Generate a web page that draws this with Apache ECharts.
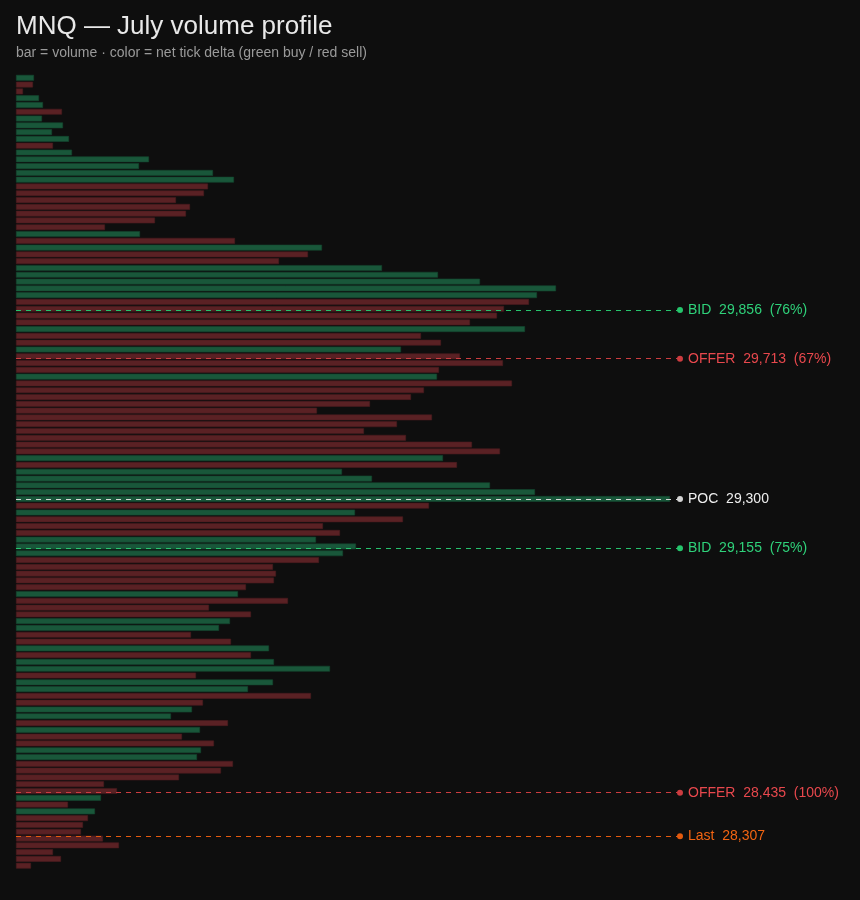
<!DOCTYPE html>
<html><head><meta charset="utf-8">
<script src="https://cdn.jsdelivr.net/npm/echarts@6/dist/echarts.min.js"></script>
<style>html,body{margin:0;padding:0;background:#0e0e0e}#c{width:860px;height:900px}</style>
</head><body><div id="c"></div>
<script>
// price bins (top to bottom)
const prices = [
30540,30520,30500,30480,30460,30440,30420,30400,30380,30360,
30340,30320,30300,30280,30260,30240,30220,30200,30180,30160,
30140,30120,30100,30080,30060,30040,30020,30000,29980,29960,
29940,29920,29900,29880,29860,29840,29820,29800,29780,29760,
29740,29720,29700,29680,29660,29640,29620,29600,29580,29560,
29540,29520,29500,29480,29460,29440,29420,29400,29380,29360,
29340,29320,29300,29280,29260,29240,29220,29200,29180,29160,
29140,29120,29100,29080,29060,29040,29020,29000,28980,28960,
28940,28920,28900,28880,28860,28840,28820,28800,28780,28760,
28740,28720,28700,28680,28660,28640,28620,28600,28580,28560,
28540,28520,28500,28480,28460,28440,28420,28400,28380,28360,
28340,28320,28300,28280,28260,28240,28220];
// volume per bin
const volumes = [
18,17,7,23,27,46,26,47,36,53,
37,56,133,123,197,218,192,188,160,174,
170,139,89,124,219,306,292,263,366,422,
464,540,521,513,488,481,454,509,405,425,
385,444,487,423,421,496,408,395,354,301,
416,381,348,390,456,484,427,441,326,356,
474,519,654,413,339,387,307,324,300,340,
327,303,257,260,258,230,222,272,193,235,
214,203,175,215,253,235,258,314,180,257,
232,295,187,176,155,212,184,166,198,185,
181,217,205,163,88,101,85,52,79,72,
67,65,87,103,37,45,15];
// net tick delta sign: 1 buy, -1 sell
const deltaSign = [
1,-1,-1,1,1,-1,1,1,1,1,
-1,1,1,1,1,1,-1,-1,-1,-1,
-1,-1,-1,1,-1,1,-1,-1,1,1,
1,1,1,-1,-1,-1,-1,1,-1,-1,
1,-1,-1,-1,1,-1,-1,-1,-1,-1,
-1,-1,-1,-1,-1,-1,1,-1,1,1,
1,1,1,-1,1,-1,-1,-1,1,1,
1,-1,-1,-1,-1,-1,1,-1,-1,-1,
1,1,-1,-1,1,-1,1,1,-1,1,
1,-1,-1,1,1,-1,1,-1,-1,1,
1,-1,-1,-1,-1,-1,1,-1,1,-1,
-1,-1,-1,-1,-1,-1,-1];
// reference levels
const levelNames = ['BID','OFFER','POC','BID','OFFER','Last'];
const levelPrices = [29856,29713,29300,29155,28435,28307];
const levelPct = ['76%','67%','','75%','100%',''];
const levelColors = ['#2fd27a','#e8484d','#eeeeee','#2fd27a','#e8484d','#f26412'];
const lineColors = ['#25c56c','#cc3c40','#d4d4d4','#25c56c','#cc3c40','#e35a0e'];

const GREEN = '#19573a', RED = '#5a2124';
const barData = volumes.map((v,i)=>({
  value: v,
  itemStyle: {color: deltaSign[i] > 0 ? GREEN : RED,
              borderColor: deltaSign[i] > 0 ? '#14472f' : '#4a1b1e', borderWidth: 0.6}
}));

const fmt = n => n.toLocaleString('en-US');
const markData = levelPrices.map((p,i)=>({
  yAxis: p,
  lineStyle: {color: lineColors[i], type: [5,5], width: 1.2},
  itemStyle: {color: levelColors[i]},
  label: {color: levelColors[i],
    formatter: levelNames[i] + '  ' + fmt(p) + (levelPct[i] ? '  (' + levelPct[i] + ')' : '')}
}));

const chart = echarts.init(document.getElementById('c'), null, {renderer:'canvas'});
chart.setOption({
  backgroundColor: '#0e0e0e',
  animation: false,
  title: {
    text: 'MNQ — July volume profile',
    subtext: 'bar = volume · color = net tick delta (green buy / red sell)',
    left: 11, top: 9, itemGap: 6,
    textStyle: {color:'#e8e8e8', fontSize: 26, fontWeight: 'normal', fontFamily: 'Liberation Sans, Arial, sans-serif'},
    subtextStyle: {color:'#9a9a9a', fontSize: 14, fontFamily: 'Liberation Sans, Arial, sans-serif'}
  },
  grid: {left: 16, right: 180, top: 74.4, bottom: 30.9},
  xAxis: {type:'value', min: 0, max: 664, show: false},
  yAxis: [
    {type:'category', data: prices.map(String), inverse: true, show: false},
    {type:'value', min: 28210, max: 30550, show: false}
  ],
  series: [
    {type:'bar', yAxisIndex: 0, data: barData, barWidth: 5.8, silent: true},
    {type:'line', yAxisIndex: 1, data: [], silent: true,
     markLine: {
       silent: true, symbol: ['none','circle'], symbolSize: 6,
       label: {show: true, position: 'end', distance: 8, fontSize: 14,
               fontFamily: 'Liberation Sans, Arial, sans-serif'},
       emphasis: {disabled: true},
       data: markData
     }}
  ]
});
</script></body></html>
